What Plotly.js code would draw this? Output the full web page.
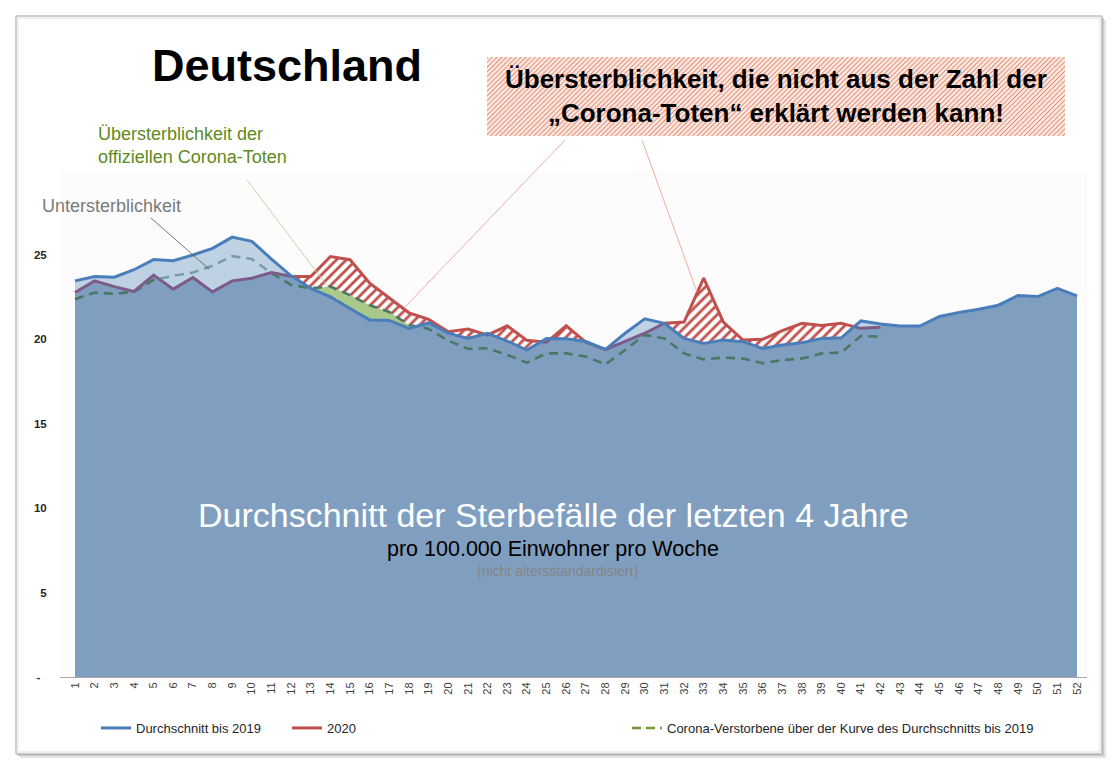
<!DOCTYPE html>
<html>
<head>
<meta charset="utf-8">
<script src="https://cdn.plot.ly/plotly-3.0.1.min.js"></script>
<style>html,body{margin:0;padding:0;background:#fff;}#chart{width:1119px;height:768px;}</style>
</head>
<body>
<div id="chart"></div>
<script>
// ---- data (Sterbefälle pro 100.000 Einwohner pro Woche) ----
const weeks = [1,2,3,4,5,6,7,8,9,10,11,12,13,14,15,16,17,18,19,20,21,22,23,24,25,26,27,28,29,30,31,32,33,34,35,36,37,38,39,40,41,42,43,44,45,46,47,48,49,50,51,52];
const weekLabels = ["1","2","3","4","5","6","7","8","9","10","11","12","13","14","15","16","17","18","19","20","21","22","23","24","25","26","27","28","29","30","31","32","33","34","35","36","37","38","39","40","41","42","43","44","45","46","47","48","49","50","51","52"];
const avgTo2019 = [23.44,23.70,23.66,24.10,24.70,24.63,24.97,25.36,26.03,25.78,24.73,23.74,23.00,22.50,21.80,21.13,21.10,20.63,20.95,20.35,20.03,20.33,19.88,19.34,20.03,20.02,19.85,19.39,20.34,21.19,20.93,20.03,19.74,19.94,19.84,19.44,19.64,19.78,20.03,20.07,21.07,20.89,20.77,20.77,21.33,21.57,21.76,22.00,22.57,22.51,23.00,22.55];
const year2020 = [22.75,23.44,23.10,22.81,23.78,22.95,23.64,22.79,23.44,23.60,23.93,23.70,23.70,24.88,24.69,23.30,22.40,21.55,21.16,20.43,20.59,20.23,20.78,19.92,19.81,20.78,19.81,19.37,19.84,20.34,20.93,21.00,23.60,21.00,19.94,19.98,20.50,20.93,20.80,20.93,20.63,20.70];
const coronaAbove = [22.35,22.75,22.67,22.80,23.50,23.74,23.93,24.33,24.90,24.73,23.90,23.20,23.00,23.10,22.60,22.00,21.60,20.83,20.60,19.90,19.42,19.45,19.06,18.60,19.15,19.15,18.96,18.50,19.35,20.24,20.03,19.15,18.79,18.90,18.85,18.56,18.75,18.85,19.15,19.20,20.18,20.14];
const yTickVals = [0,5,10,15,20,25];
const yTickText = ["-\u00a0\u00a0","5","10","15","20","25"];

// ---- geometry helpers (layout only) ----
const W = 1119, H = 768, M = {l:60, r:32, t:170, b:91};
const PW = W - M.l - M.r, PH = H - M.t - M.b;
const PX = px => (px - M.l) / PW;
const PY = py => (H - M.b - py) / PH;

// insert crossing points of two series so envelopes are exact
function mergeGrid(xs, a, b) {
  const X = [], A = [], B = [];
  for (let i = 0; i < xs.length; i++) {
    if (i > 0) {
      const d0 = a[i-1] - b[i-1], d1 = a[i] - b[i];
      if (d0 * d1 < 0) {
        const t = d0 / (d0 - d1);
        const v = a[i-1] + t * (a[i] - a[i-1]);
        X.push(xs[i-1] + t * (xs[i] - xs[i-1])); A.push(v); B.push(v);
      }
    }
    X.push(xs[i]); A.push(a[i]); B.push(b[i]);
  }
  return {X, A, B};
}
const n20 = year2020.length;
const wk20 = weeks.slice(0, n20);
const avg20 = avgTo2019.slice(0, n20);
const rb = mergeGrid(wk20, avg20, year2020);
const lower = rb.A.map((v, i) => Math.min(v, rb.B[i]));
const darkX = rb.X.concat(weeks.slice(n20 - 1));
const darkY = lower.concat(avgTo2019.slice(n20 - 1));
const bd = mergeGrid(wk20, avg20, coronaAbove);
const upperG = bd.A.map((v, i) => Math.max(v, bd.B[i]));
const rev = arr => arr.slice().reverse();
// split 2020 line: above average (red) / below average (seen through the light area)
const segAbove = i => (rb.B[i] + rb.B[i+1]) >= (rb.A[i] + rb.A[i+1]);
const last = rb.X.length - 1;
const redAboveY = rb.B.map((v, i) => ((i > 0 && segAbove(i-1)) || (i < last && segAbove(i))) ? v : null);
const redBelowY = rb.B.map((v, i) => ((i > 0 && !segAbove(i-1)) || (i < last && !segAbove(i))) ? v : null);

const COL_BLUE = '#4a7ebb', COL_RED = '#c0504d';
const traces = [
  // hatched excess mortality (under 2020 curve)
  {x: wk20, y: year2020, type:'scatter', mode:'lines', fill:'tozeroy', line:{width:0, color:COL_RED},
   fillcolor:'#ffffff', fillpattern:{shape:'/', fgcolor:COL_RED, bgcolor:'#ffffff', size:7, solidity:0.4},
   showlegend:false, hoverinfo:'skip'},
  // green: official corona deaths above average curve
  {x: bd.X.concat(rev(bd.X)), y: upperG.concat(rev(bd.A)), type:'scatter', mode:'lines', fill:'toself',
   fillcolor:'#a9c98b', line:{width:0}, showlegend:false, hoverinfo:'skip'},
  // dark base area
  {x: darkX, y: darkY, type:'scatter', mode:'lines', fill:'tozeroy', fillcolor:'#809fc0',
   line:{width:0}, showlegend:false, hoverinfo:'skip'},
  // dashed corona line
  {x: wk20, y: coronaAbove, type:'scatter', mode:'lines', line:{color:'#4a7866', width:2.6, dash:'9px,6px'},
   showlegend:false, hoverinfo:'skip'},
  // light "Untersterblichkeit" overlay
  {x: rb.X.concat(rev(rb.X)), y: rb.A.concat(rev(lower)), type:'scatter', mode:'lines', fill:'toself',
   fillcolor:'rgba(150,182,212,0.6)', line:{width:0}, showlegend:false, hoverinfo:'skip'},
  // 2020 line, part below the average
  {x: rb.X, y: redBelowY, type:'scatter', mode:'lines', connectgaps:false,
   line:{color:'#7b5b87', width:3}, showlegend:false, hoverinfo:'skip'},
  // 2020 line, part above the average
  {x: rb.X, y: redAboveY, type:'scatter', mode:'lines', name:'2020', legendrank:2, connectgaps:false,
   line:{color:COL_RED, width:3}, hoverinfo:'skip'},
  // average line
  {x: weeks, y: avgTo2019, type:'scatter', mode:'lines', name:'Durchschnitt bis 2019', legendrank:1,
   line:{color:COL_BLUE, width:3}, hoverinfo:'skip'},
  // legend entry for dashed series
  {x:[null], y:[null], type:'scatter', mode:'lines', name:'Corona-Verstorbene über der Kurve des Durchschnitts bis 2019',
   legend:'legend2', line:{color:'#77933c', width:2.5, dash:'9px,5px'}, hoverinfo:'skip'}
];

const hatchSvg = "<svg xmlns='http://www.w3.org/2000/svg' width='578' height='79'><defs>" +
  "<pattern id='p' width='3.4' height='3.4' patternUnits='userSpaceOnUse' patternTransform='rotate(45)'>" +
  "<rect width='3.4' height='3.4' fill='#fbe6de'/><line x1='0' y1='0' x2='0' y2='3.4' stroke='#e07a62' stroke-width='1.5'/></pattern></defs>" +
  "<rect width='578' height='79' fill='url(#p)'/></svg>";

const FONT = 'Arial, "Liberation Sans", sans-serif';
const ann = (px, py, text, size, color, opts) => Object.assign({
  xref:'paper', yref:'paper', x:PX(px), y:PY(py), text, showarrow:false,
  font:{family:FONT, size, color}, xanchor:'center', yanchor:'middle'}, opts || {});
const seg = (x0, y0, x1, y1, color, width) => ({type:'line', xref:'paper', yref:'paper',
  x0:PX(x0), y0:PY(y0), x1:PX(x1), y1:PY(y1), line:{color, width}});
const box = (x0, y0, x1, y1, fill, line, lw) => ({type:'rect', xref:'paper', yref:'paper', layer:'below',
  x0:PX(x0), y0:PY(y0), x1:PX(x1), y1:PY(y1), fillcolor:fill, line:{color:line, width:lw}});

const layout = {
  width: W, height: H,
  margin: {l:M.l, r:M.r, t:M.t, b:M.b, autoexpand:false},
  paper_bgcolor:'#ffffff', plot_bgcolor:'#ffffff',
  font:{family:FONT},
  xaxis:{range:[0.2365, 52.509], tickvals:weeks, ticktext:weekLabels, tickangle:-90,
    tickfont:{family:FONT, size:11, color:'#404040'}, showgrid:false, zeroline:false,
    showline:true, linecolor:'#a6a6a6', linewidth:1, ticks:'', fixedrange:true},
  yaxis:{range:[0, 30], tickvals:yTickVals, ticktext:yTickText, showgrid:false, zeroline:false,
    showline:false, ticks:'outside', ticklen:10, tickcolor:'rgba(0,0,0,0)',
    tickfont:{family:FONT, size:11.5, color:'#262626', weight:'bold'}, fixedrange:true},
  showlegend:true,
  legend:{orientation:'h', x:PX(96), y:PY(728), xanchor:'left', yanchor:'middle', bgcolor:'rgba(0,0,0,0)',
    font:{family:FONT, size:13, color:'#262626'}, entrywidth:146, entrywidthmode:'pixels', traceorder:'normal'},
  legend2:{orientation:'h', x:PX(627), y:PY(728), xanchor:'left', yanchor:'middle', bgcolor:'rgba(0,0,0,0)',
    font:{family:FONT, size:13, color:'#262626'}},
  shapes:[
    box(20, 20, 1106, 758, '#e4e4e4', 'rgba(0,0,0,0)', 0),
    box(18, 18, 1104, 756, '#cbcbcb', 'rgba(0,0,0,0)', 0),
    box(16, 16, 1102, 754, '#ffffff', '#a0a0a0', 1),
    box(18, 18, 1100, 752, 'rgba(0,0,0,0)', '#dedede', 1),
    box(60, 172, 1087, 677, '#fcfcfc', 'rgba(0,0,0,0)', 0),
    seg(151, 218, 209, 269, '#555555', 0.8),
    seg(247, 180, 338, 300, '#c9cc9a', 0.9),
    seg(565, 140, 405, 307, '#eba594', 0.9),
    seg(642, 140, 697, 292, '#eba594', 0.9)
  ],
  images:[{source:'data:image/svg+xml;base64,' + btoa(hatchSvg), xref:'paper', yref:'paper',
    x:PX(487), y:PY(57), sizex:(1065-487)/PW, sizey:(136-57)/PH, sizing:'stretch',
    xanchor:'left', yanchor:'top', layer:'above'}],
  annotations:[
    ann(287, 65, '<b>Deutschland</b>', 45, '#000000'),
    ann(96, 145, 'Übersterblichkeit der<br>offiziellen Corona-Toten', 18, '#5e8a22', {xanchor:'left', align:'left'}),
    ann(40, 206, 'Untersterblichkeit', 18, '#7a7a7a', {xanchor:'left'}),
    ann(776, 96, '<b>Übersterblichkeit, die nicht aus der Zahl der<br>„Corona-Toten“ erklärt werden kann!</b>', 26, '#000000'),
    ann(553, 515, 'Durchschnitt der Sterbefälle der letzten 4 Jahre', 34, '#ffffff'),
    ann(553, 549, 'pro 100.000 Einwohner pro Woche', 21.5, '#000000'),
    ann(557, 571, '(nicht altersstandardisiert)', 14, '#858585')
  ]
};

Plotly.newPlot('chart', traces, layout, {staticPlot:true, displayModeBar:false});
</script>
</body>
</html>
